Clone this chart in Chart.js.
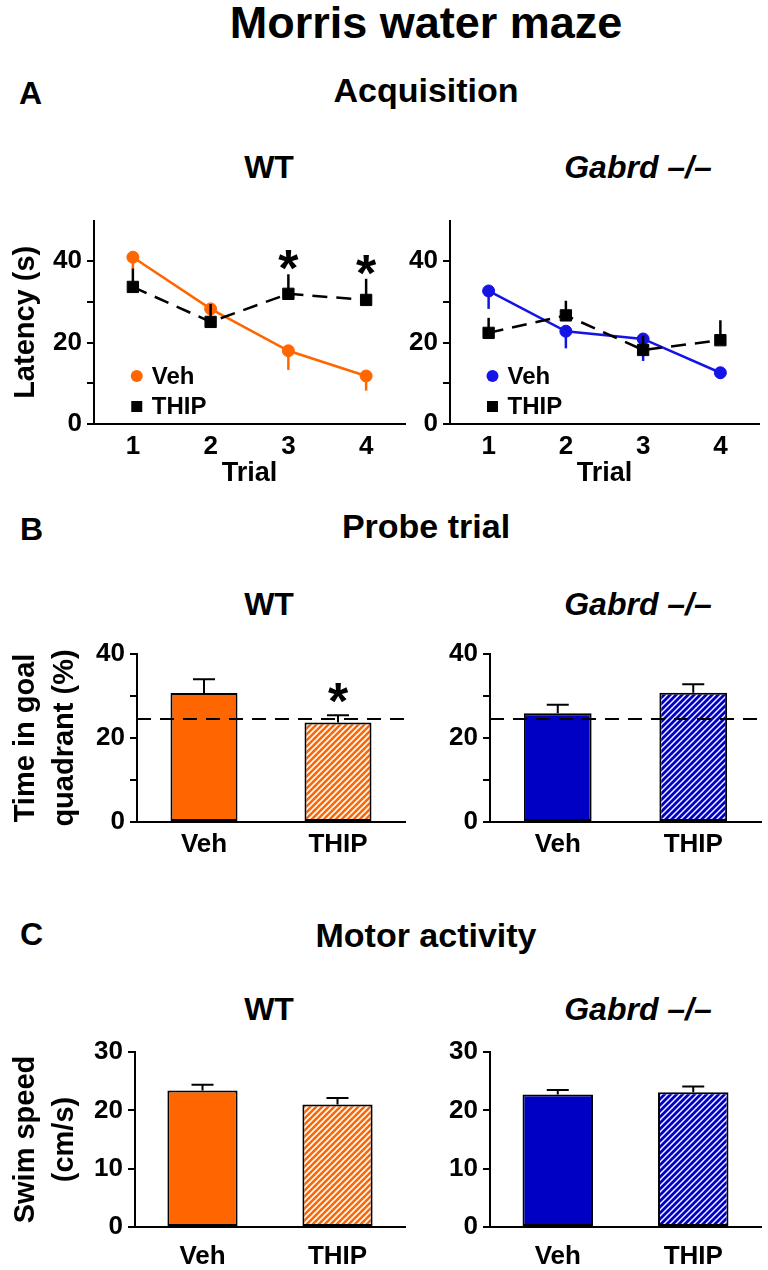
<!DOCTYPE html>
<html>
<head>
<meta charset="utf-8">
<script src="https://cdn.jsdelivr.net/npm/chart.js@4.4.1/dist/chart.umd.min.js"></script>
<style>
  html, body { margin: 0; padding: 0; background: #fff; }
  body { width: 768px; height: 1270px; position: relative; overflow: hidden;
         font-family: "Liberation Sans", Arial, sans-serif; font-weight: bold; color: #000; }
  .txt { position: absolute; line-height: 1; white-space: nowrap; }
  .c { transform: translateX(-50%); }
  .it { font-style: italic; }
  canvas { position: absolute; }
</style>
</head>
<body>
<div class="txt c" style="left:426px; top:0px; font-size:45px">Morris water maze</div>

<div class="txt" style="left:19px; top:77px; font-size:32px">A</div>
<div class="txt c" style="left:426px; top:73px; font-size:34px">Acquisition</div>
<div class="txt c" style="left:269px; top:151px; font-size:32px">WT</div>
<div class="txt c it" style="left:638px; top:151px; font-size:32px">Gabrd –/–</div>

<div class="txt" style="left:20px; top:513px; font-size:32px">B</div>
<div class="txt c" style="left:426px; top:509px; font-size:34px">Probe trial</div>
<div class="txt c" style="left:269px; top:588px; font-size:32px">WT</div>
<div class="txt c it" style="left:638px; top:588px; font-size:32px">Gabrd –/–</div>

<div class="txt" style="left:20px; top:918px; font-size:32px">C</div>
<div class="txt c" style="left:426px; top:918px; font-size:34px">Motor activity</div>
<div class="txt c" style="left:269px; top:993px; font-size:32px">WT</div>
<div class="txt c it" style="left:638px; top:993px; font-size:32px">Gabrd –/–</div>

<canvas id="latWT" width="420" height="300" style="left:0; top:200px"></canvas>
<canvas id="latKO" width="378" height="300" style="left:390px; top:200px"></canvas>
<canvas id="probeWT" width="420" height="240" style="left:0; top:630px"></canvas>
<canvas id="probeKO" width="378" height="240" style="left:390px; top:630px"></canvas>
<canvas id="speedWT" width="420" height="240" style="left:0; top:1030px"></canvas>
<canvas id="speedKO" width="378" height="240" style="left:390px; top:1030px"></canvas>

<script>
// acquisition (latency, s) per trial
const TRIALS = [1, 2, 3, 4];
const WT_VEH_LAT = [41.0, 28.3, 18.0, 11.8];
const WT_VEH_LAT_SEM = [3.0, 1.5, 4.7, 3.6];
const WT_THIP_LAT = [33.7, 25.1, 32.0, 30.5];
const WT_THIP_LAT_SEM = [4.5, 4.4, 4.8, 5.2];
const WT_THIP_LAT_SIG = [false, false, true, true];
const KO_VEH_LAT = [32.7, 22.8, 20.9, 12.6];
const KO_VEH_LAT_SEM = [4.4, 4.2, 5.4, 1.5];
const KO_THIP_LAT = [22.4, 26.7, 18.2, 20.6];
const KO_THIP_LAT_SEM = [3.7, 3.6, 3.5, 4.9];
const LAT_TICKS = [0, 10, 20, 30, 40];

// probe trial (time in goal quadrant, %)
const GROUPS = ['Veh', 'THIP'];
const WT_PROBE = [30.7, 23.7];
const WT_PROBE_SEM = [3.3, 1.7];
const WT_PROBE_SIG = [false, true];
const KO_PROBE = [25.9, 30.8];
const KO_PROBE_SEM = [2.0, 2.0];
const CHANCE = 24.5;
const PROBE_TICKS = [0, 10, 20, 30, 40];

// motor activity (swim speed, cm/s)
const WT_SPEED = [23.4, 21.0];
const WT_SPEED_SEM = [1.0, 1.1];
const KO_SPEED = [22.7, 23.1];
const KO_SPEED_SEM = [0.8, 1.0];
const SPEED_TICKS = [0, 10, 20, 30];

const ORANGE = '#FF6600';
const BLUE_LINE = '#1414E6';
const BLUE_BAR = '#0000C4';
const FONT = '"Liberation Sans", Arial, sans-serif';

Chart.defaults.font.family = FONT;
Chart.defaults.font.weight = 'bold';
Chart.defaults.color = '#000';

function hatch(color, lw) {
  const c = document.createElement('canvas');
  c.width = c.height = 6;
  const g = c.getContext('2d');
  g.fillStyle = color;
  g.fillRect(0, 0, 6, 6);
  g.strokeStyle = '#fff';
  g.lineWidth = lw;
  g.beginPath();
  g.moveTo(0, 6); g.lineTo(6, 0);
  g.moveTo(-3, 3); g.lineTo(3, -3);
  g.moveTo(3, 9); g.lineTo(9, 3);
  g.stroke();
  return g.createPattern(c, 'repeat');
}

function drawStar(ctx, x, cy) {
  ctx.font = 'bold 52px ' + FONT;
  ctx.fillStyle = '#000';
  ctx.textAlign = 'center';
  ctx.textBaseline = 'alphabetic';
  const m = ctx.measureText('*');
  ctx.fillText('*', x, cy + (m.actualBoundingBoxAscent - m.actualBoundingBoxDescent) / 2);
}

// sem whiskers (+ optional caps and stars), drawn right after each dataset
const errorBars = {
  id: 'errorBars',
  afterDatasetDraw(chart, args) {
    const ds = chart.data.datasets[args.index];
    if (!ds.sem) return;
    const y = chart.scales.y, ctx = chart.ctx;
    ctx.save();
    ctx.strokeStyle = ds.errColor || '#000';
    ctx.lineWidth = ds.errWidth || 2;
    args.meta.data.forEach((el, i) => {
      const d = ds.data[i];
      const v = typeof d === 'object' ? d.y : d;
      const end = y.getPixelForValue(v + ds.errDir * ds.sem[i]);
      ctx.beginPath();
      ctx.moveTo(el.x, el.y);
      ctx.lineTo(el.x, end);
      if (ds.errCap) {
        ctx.moveTo(el.x - ds.errCap / 2, end);
        ctx.lineTo(el.x + ds.errCap / 2, end);
      }
      ctx.stroke();
      if (ds.sig && ds.sig[i]) drawStar(ctx, el.x, end - ds.starGap);
    });
    ctx.restore();
  }
};

const chanceLine = {
  id: 'chanceLine',
  afterDatasetsDraw(chart, args, opts) {
    if (opts.value == null) return;
    const { ctx, chartArea: a } = chart;
    const py = chart.scales.y.getPixelForValue(opts.value);
    ctx.save();
    ctx.setLineDash([14, 9]);
    ctx.lineWidth = 2;
    ctx.strokeStyle = '#000';
    ctx.beginPath();
    ctx.moveTo(a.left, py);
    ctx.lineTo(a.right, py);
    ctx.stroke();
    ctx.restore();
  }
};

// legend drawn inside the plot, anchored in data units
const markerLegend = {
  id: 'markerLegend',
  afterDraw(chart, args, opts) {
    const { ctx, scales: { x, y } } = chart;
    const px = x.getPixelForValue(opts.x);
    ctx.save();
    chart.data.datasets.forEach((ds, i) => {
      const py = y.getPixelForValue(opts.y[i]);
      ctx.fillStyle = ds.pointBackgroundColor;
      if (ds.pointStyle === 'rect') {
        ctx.fillRect(px - 5.5, py - 5.5, 11, 11);
      } else {
        ctx.beginPath();
        ctx.arc(px, py, 6, 0, Math.PI * 2);
        ctx.fill();
      }
      ctx.fillStyle = '#000';
      ctx.font = 'bold 24px ' + FONT;
      ctx.textAlign = 'left';
      ctx.textBaseline = 'middle';
      ctx.fillText(ds.label, px + opts.gap, py + 1);
    });
    ctx.restore();
  }
};

function yAxis(max, ticks, labelEvery, width, title) {
  return {
    min: 0, max,
    afterBuildTicks: ax => { ax.ticks = ticks.map(v => ({ value: v })); },
    afterFit: ax => { ax.width = width; },
    ticks: { font: { size: 26 }, padding: 5, callback: v => (v % labelEvery === 0 ? v : '') },
    grid: { drawOnChartArea: false, color: '#000', lineWidth: 2, tickLength: 7 },
    border: { color: '#000', width: 2 },
    title: title
      ? { display: true, text: title, font: { size: 29, lineHeight: 1.35 }, padding: { top: 6, bottom: 0 } }
      : { display: false }
  };
}

function lineChart(id, veh, vehSem, vehColor, thip, thipSem, thipSig, yWidth, padRight, title) {
  return new Chart(document.getElementById(id), {
    type: 'line',
    data: {
      datasets: [
        {
          label: 'Veh', order: 1,
          data: TRIALS.map((t, i) => ({ x: t, y: veh[i] })),
          borderColor: vehColor, pointBackgroundColor: vehColor, pointBorderColor: vehColor,
          pointStyle: 'circle', pointRadius: 6, pointBorderWidth: 1, borderWidth: 2.5,
          sem: vehSem, errDir: -1, errColor: vehColor, errWidth: 2.5
        },
        {
          label: 'THIP', order: 0,
          data: TRIALS.map((t, i) => ({ x: t, y: thip[i] })),
          borderColor: '#000', pointBackgroundColor: '#000', pointBorderColor: '#000',
          pointStyle: 'rect', pointRadius: 8, pointBorderWidth: 1, borderWidth: 2.5,
          borderDash: [15, 9],
          sem: thipSem, errDir: 1, errColor: '#000', errWidth: 2.5, sig: thipSig, starGap: 14
        }
      ]
    },
    options: {
      responsive: false, animation: false,
      layout: { padding: { top: 18, right: padRight, left: 0, bottom: 0 } },
      plugins: {
        legend: { display: false }, tooltip: { enabled: false },
        markerLegend: { x: 1.05, y: [11.8, 4.3], gap: 15 }
      },
      scales: {
        x: {
          type: 'linear', min: 0.5, max: 4.5,
          afterBuildTicks: ax => { ax.ticks = TRIALS.map(v => ({ value: v })); },
          afterFit: ax => { ax.height = 76; },
          ticks: { font: { size: 26 }, padding: 7 },
          grid: { display: false, drawTicks: false },
          border: { color: '#000', width: 2 },
          title: { display: true, text: 'Trial', font: { size: 27 }, padding: { top: 0, bottom: 10 } }
        },
        y: yAxis(50, LAT_TICKS, 20, yWidth, title)
      }
    },
    plugins: [errorBars, markerLegend]
  });
}

function barChart(id, vals, sem, sig, fills, max, ticks, labelEvery, yWidth, padTop, padRight, xHeight, xPad, barPct, title, chance) {
  return new Chart(document.getElementById(id), {
    type: 'bar',
    data: {
      labels: GROUPS,
      datasets: [{
        data: vals, backgroundColor: fills, borderColor: '#000', borderWidth: 2,
        borderSkipped: false, barPercentage: 1, categoryPercentage: barPct,
        sem, errDir: 1, errCap: 22, errColor: '#000', sig, starGap: 22
      }]
    },
    options: {
      responsive: false, animation: false,
      layout: { padding: { top: padTop, right: padRight, left: 0, bottom: 0 } },
      plugins: {
        legend: { display: false }, tooltip: { enabled: false },
        chanceLine: { value: chance }
      },
      scales: {
        x: {
          afterFit: ax => { ax.height = xHeight; },
          ticks: { font: { size: 26 }, padding: xPad },
          grid: { display: false, drawTicks: false },
          border: { color: '#000', width: 2 }
        },
        y: yAxis(max, ticks, labelEvery, yWidth, title)
      }
    },
    plugins: [errorBars, chanceLine]
  });
}

lineChart('latWT', WT_VEH_LAT, WT_VEH_LAT_SEM, ORANGE, WT_THIP_LAT, WT_THIP_LAT_SEM, WT_THIP_LAT_SIG, 94, 15, 'Latency (s)');
lineChart('latKO', KO_VEH_LAT, KO_VEH_LAT_SEM, BLUE_LINE, KO_THIP_LAT, KO_THIP_LAT_SEM, null, 60, 6, null);

barChart('probeWT', WT_PROBE, WT_PROBE_SEM, WT_PROBE_SIG, [ORANGE, hatch(ORANGE, 1.6)],
  40, PROBE_TICKS, 20, 137, 24, 15, 48, 7, 0.5, ['Time in goal', 'quadrant (%)'], CHANCE);
barChart('probeKO', KO_PROBE, KO_PROBE_SEM, null, [BLUE_BAR, hatch(BLUE_BAR, 1.4)],
  40, PROBE_TICKS, 20, 100, 24, 7, 48, 7, 0.5, null, CHANCE);

barChart('speedWT', WT_SPEED, WT_SPEED_SEM, null, [ORANGE, hatch(ORANGE, 1.6)],
  30, SPEED_TICKS, 10, 135, 22, 15, 43, 14, 0.52, ['Swim speed', '(cm/s)'], null);
barChart('speedKO', KO_SPEED, KO_SPEED_SEM, null, [BLUE_BAR, hatch(BLUE_BAR, 1.4)],
  30, SPEED_TICKS, 10, 100, 22, 7, 43, 14, 0.52, null, null);
</script>
</body>
</html>
